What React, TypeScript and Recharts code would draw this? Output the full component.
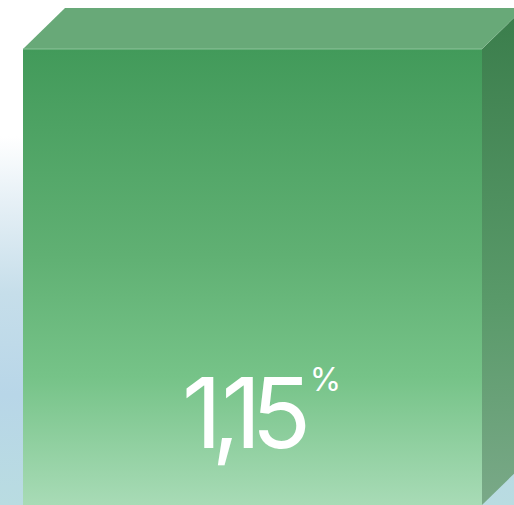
import { BarChart, Bar, XAxis, YAxis, LabelList } from "recharts";

const categories = ["Taux"];
const values = [1.15];
const valueLabels = ["1,15"];
const unit = "%";

const data = categories.map((name, i) => ({ name, value: values[i], label: valueLabels[i] }));

const DEPTH_X = 42;
const DEPTH_Y = 41;

function Box3D(props: any) {
    const { x, y, width, height } = props;
    const right = x + width;
    const bottom = y + height;
    const top = `${x},${y} ${x + DEPTH_X},${y - DEPTH_Y} ${right + DEPTH_X},${y - DEPTH_Y} ${right},${y}`;
    const side = `${right},${y} ${right + DEPTH_X},${y - DEPTH_Y} ${right + DEPTH_X},${bottom - DEPTH_Y} ${right},${bottom}`;
    return (
        <g>
            <defs>
                <linearGradient id="frontGrad" x1="0" y1="0" x2="0" y2="1">
                    <stop offset="0%" stopColor="#429a5a" />
                    <stop offset="45%" stopColor="#60b073" />
                    <stop offset="72%" stopColor="#76c388" />
                    <stop offset="100%" stopColor="#a8dbb6" />
                </linearGradient>
                <linearGradient id="sideGrad" x1="0" y1="0" x2="0" y2="1">
                    <stop offset="0%" stopColor="#3a7d4b" />
                    <stop offset="60%" stopColor="#5a9a6a" />
                    <stop offset="100%" stopColor="#7aa988" />
                </linearGradient>
            </defs>
            <polygon points={side} fill="url(#sideGrad)" />
            <polygon points={top} fill="#68a978" />
            <rect x={x} y={y} width={width} height={height} fill="url(#frontGrad)" />
            <line x1={x} y1={y} x2={right} y2={y} stroke="#8cc49a" strokeWidth={1} />
        </g>
    );
}

function BigLabel(props: any) {
    const { x, width, index } = props;
    const cx = x + width / 2 - 11;
    return (
        <g>
            <text
                x={cx}
                y={448}
                textAnchor="middle"
                fill="#ffffff"
                fontFamily="Inter, sans-serif"
                fontWeight={400}
                fontSize={98}
                letterSpacing={-10}
            >
                {valueLabels[index]}
            </text>
            <text
                x={cx + 84}
                y={391}
                textAnchor="middle"
                fill="#ffffff"
                fontFamily="Inter, sans-serif"
                fontWeight={400}
                fontSize={32}
            >
                {unit}
            </text>
        </g>
    );
}

export default function App() {
    return (
        <div
            style={{
                position: "absolute",
                top: 0,
                left: 0,
                width: 514,
                height: 505,
                overflow: "hidden",
                background:
                    "linear-gradient(180deg, #ffffff 0%, #ffffff 27%, #e6f0f6 40%, #c6deea 58%, #b8d6e8 78%, #b9dce1 100%)",
            }}
        >
            <BarChart
                width={514}
                height={505}
                data={data}
                margin={{ top: 49, right: 32, bottom: 0, left: 23 }}
                barCategoryGap={0}
                style={{ overflow: "visible" }}
            >
                <XAxis dataKey="name" hide />
                <YAxis hide domain={[0, 1.15]} />
                <Bar dataKey="value" shape={<Box3D />} isAnimationActive={false}>
                    <LabelList dataKey="label" content={<BigLabel />} />
                </Bar>
            </BarChart>
        </div>
    );
}
